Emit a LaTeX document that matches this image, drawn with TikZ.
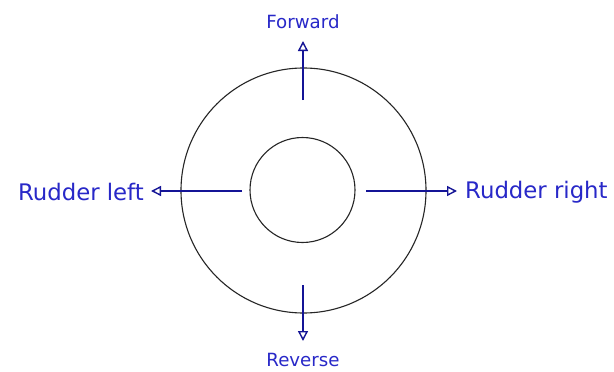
\documentclass[tikz,border=0pt]{standalone}
\usepackage{fontspec}
\setmainfont{DejaVu Sans}
\usetikzlibrary{arrows.meta}
\definecolor{lbl}{RGB}{40,40,200}
\definecolor{arr}{RGB}{20,20,150}
\tikzset{
  ring/.style={draw=black!85, line width=1.1pt},
  dirarrow/.style={draw=arr, line width=1.6pt, -{Triangle[open, length=10pt, width=10pt, line width=1.4pt]}},
  biglbl/.style={text=lbl, font=\fontsize{22.8}{26}\selectfont, inner sep=0pt},
  smalllbl/.style={text=lbl, font=\fontsize{18.2}{20}\selectfont, inner sep=0pt}
}
\begin{document}
\begin{tikzpicture}[x=1pt,y=-1pt]
\useasboundingbox (0,0) rectangle (614,372);
\fill[white] (0,0) rectangle (614,372);
\node[ring, circle, minimum size=245pt, inner sep=0pt] (outer) at (303.5,190.5) {};
\node[ring, circle, minimum size=105pt, inner sep=0pt] (inner) at (302.5,190) {};
% arrow anchor points
\coordinate (fs) at (303,100);
\coordinate (ft) at (303,41);
\coordinate (rs) at (303,285);
\coordinate (rt) at (303,341);
\coordinate (ls) at (242,191);
\coordinate (lt) at (151,191);
\coordinate (gs) at (366,191);
\coordinate (gt) at (457,191);
\draw[dirarrow] (fs) -- (ft);
\draw[dirarrow] (rs) -- (rt);
\draw[dirarrow] (ls) -- (lt);
\draw[dirarrow] (gs) -- (gt);
\node[smalllbl] (fwd) at (303,22) {Forward};
\node[smalllbl] (rev) at (303,360) {Reverse};
\node[biglbl, anchor=east] (rl) at (144,192) {Rudder left};
\node[biglbl, anchor=west] (rr) at (465,192) {Rudder right};
\end{tikzpicture}
\end{document}
